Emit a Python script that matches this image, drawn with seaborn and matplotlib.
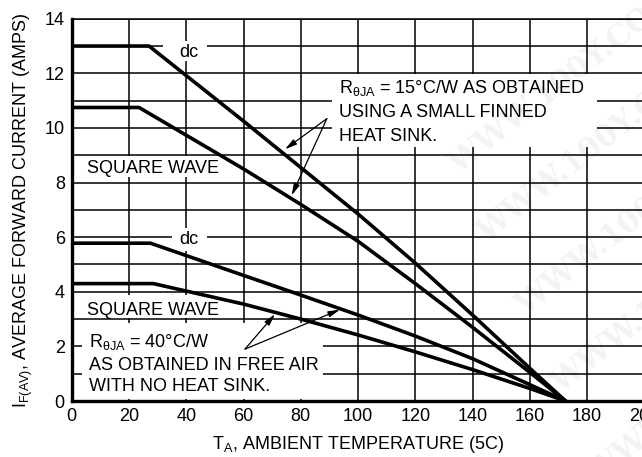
import matplotlib
matplotlib.use("Agg")
import matplotlib.pyplot as plt
from matplotlib.patches import Rectangle
from matplotlib import font_manager
import pandas as pd
import seaborn as sns

# Derating curves: ambient temperature (°C) vs. average forward current (A)
temp_dc_15 = [0, 27, 60, 80, 100, 120, 140, 160, 172.5]
amps_dc_15 = [13.0, 13.0, 10.25, 8.55, 6.85, 5.05, 3.15, 1.2, 0.0]
temp_sq_15 = [0, 23.5, 60, 80, 100, 120, 140, 160, 172.5]
amps_sq_15 = [10.75, 10.75, 8.5, 7.2, 5.85, 4.3, 2.7, 1.05, 0.0]
temp_dc_40 = [0, 27.5, 60, 80, 100, 120, 140, 160, 172.5]
amps_dc_40 = [5.78, 5.78, 4.6, 3.88, 3.15, 2.38, 1.55, 0.6, 0.0]
temp_sq_40 = [0, 28.5, 60, 80, 100, 120, 140, 160, 172.5]
amps_sq_40 = [4.3, 4.3, 3.55, 3.0, 2.42, 1.8, 1.15, 0.46, 0.0]

x_ticks = list(range(0, 201, 20))
y_ticks = list(range(0, 15, 2))
y_minor = list(range(0, 15, 1))

curves = {
    "dc, 15 C/W": (temp_dc_15, amps_dc_15),
    "square, 15 C/W": (temp_sq_15, amps_sq_15),
    "dc, 40 C/W": (temp_dc_40, amps_dc_40),
    "square, 40 C/W": (temp_sq_40, amps_sq_40),
}
frames = [pd.DataFrame({"temp": t, "amps": a, "curve": name})
          for name, (t, a) in curves.items()]
df = pd.concat(frames, ignore_index=True)

sns.set_theme(style="white")
names = {f.name for f in font_manager.fontManager.ttflist}
family = [f for f in ["Liberation Sans Narrow", "Liberation Sans", "DejaVu Sans"] if f in names]
plt.rcParams["font.family"] = family
plt.rcParams["mathtext.default"] = "regular"

FS = 13.0
fig = plt.figure(figsize=(6.42, 4.57), dpi=100)
ax = fig.add_axes([0.1118, 0.1225, 0.8918, 0.8365])

sns.lineplot(data=df, x="temp", y="amps", units="curve", estimator=None,
             color="black", lw=2.6, ax=ax, zorder=2)

ax.set_xlim(0, 200)
ax.set_ylim(0, 14)
ax.set_xticks(x_ticks)
ax.set_yticks(y_ticks)
ax.set_yticks(y_minor, minor=True)
ax.set_axisbelow(True)
ax.grid(True, which="both", color="black", lw=1.1)
ax.tick_params(which="both", length=0, labelsize=FS, pad=5, colors="black")
for side in ("left", "bottom"):
    ax.spines[side].set_linewidth(2.4)
    ax.spines[side].set_color("black")
ax.spines["top"].set_linewidth(1.1)
ax.spines["top"].set_color("black")
ax.spines["right"].set_visible(False)

ax.set_xlabel(r"T$_{A}$, AMBIENT TEMPERATURE (5C)", fontsize=FS, color="black")
ax.set_ylabel(r"I$_{F(AV)}$, AVERAGE FORWARD CURRENT (AMPS)", fontsize=FS, color="black")
ax.xaxis.set_label_coords(0.5, -0.086)
ax.yaxis.set_label_coords(-0.064, 0.5)

# white panels behind the annotations break the grid
panels = [
    (32.0, 12.45, 15.2, 0.75),
    (34.9, 5.49, 12.2, 0.83),
    (4.3, 8.2, 46.8, 0.76),
    (4.3, 3.05, 46.8, 0.85),
    (91.0, 9.29, 92.3, 2.67),
    (3.5, 0.08, 84.3, 2.77),
]
for x0, y0, w, h in panels:
    ax.add_patch(Rectangle((x0, y0), w, h, facecolor="white",
                           edgecolor="none", zorder=1.5))

txt = dict(fontsize=FS, color="black", va="baseline", ha="left", zorder=3)
ax.text(37.5, 12.6, "dc", **txt)
ax.text(37.5, 5.74, "dc", **txt)
ax.text(5.43, 8.35, "SQUARE WAVE", **txt)
ax.text(5.43, 3.14, "SQUARE WAVE", **txt)
ax.text(93.5, 11.27, r"R$_{θJA}$ = 15°C/W AS OBTAINED", **txt)
ax.text(93.5, 10.41, "USING A SMALL FINNED", **txt)
ax.text(93.5, 9.53, "HEAT SINK.", **txt)
ax.text(6.1, 1.97, r"R$_{θJA}$ = 40°C/W", **txt)
ax.text(6.1, 1.14, "AS OBTAINED IN FREE AIR", **txt)
ax.text(6.1, 0.37, "WITH NO HEAT SINK.", **txt)

arrow = dict(arrowstyle="-|>,head_length=0.7,head_width=0.18", color="black",
             lw=0.9, shrinkA=0, shrinkB=0, mutation_scale=10)
for tip in [(74.5, 9.22), (76.8, 7.53)]:
    ax.annotate("", xy=tip, xytext=(89.1, 10.34), arrowprops=arrow, zorder=3)
for tip in [(71.0, 3.18), (93.7, 3.35)]:
    ax.annotate("", xy=tip, xytext=(60.5, 1.9), arrowprops=arrow, zorder=3)

# faint diagonal site stamp
for fx, fy in [(0.69, 0.87), (0.735, 0.72), (0.795, 0.56), (0.85, 0.39), (0.905, 0.19)]:
    fig.text(fx, fy, "WWW.100Y.COM.TW", family="DejaVu Serif", weight="bold",
             fontsize=22, color="black", alpha=0.05, rotation=38,
             ha="left", va="center", zorder=10)

fig.savefig("out.png", dpi=100)
